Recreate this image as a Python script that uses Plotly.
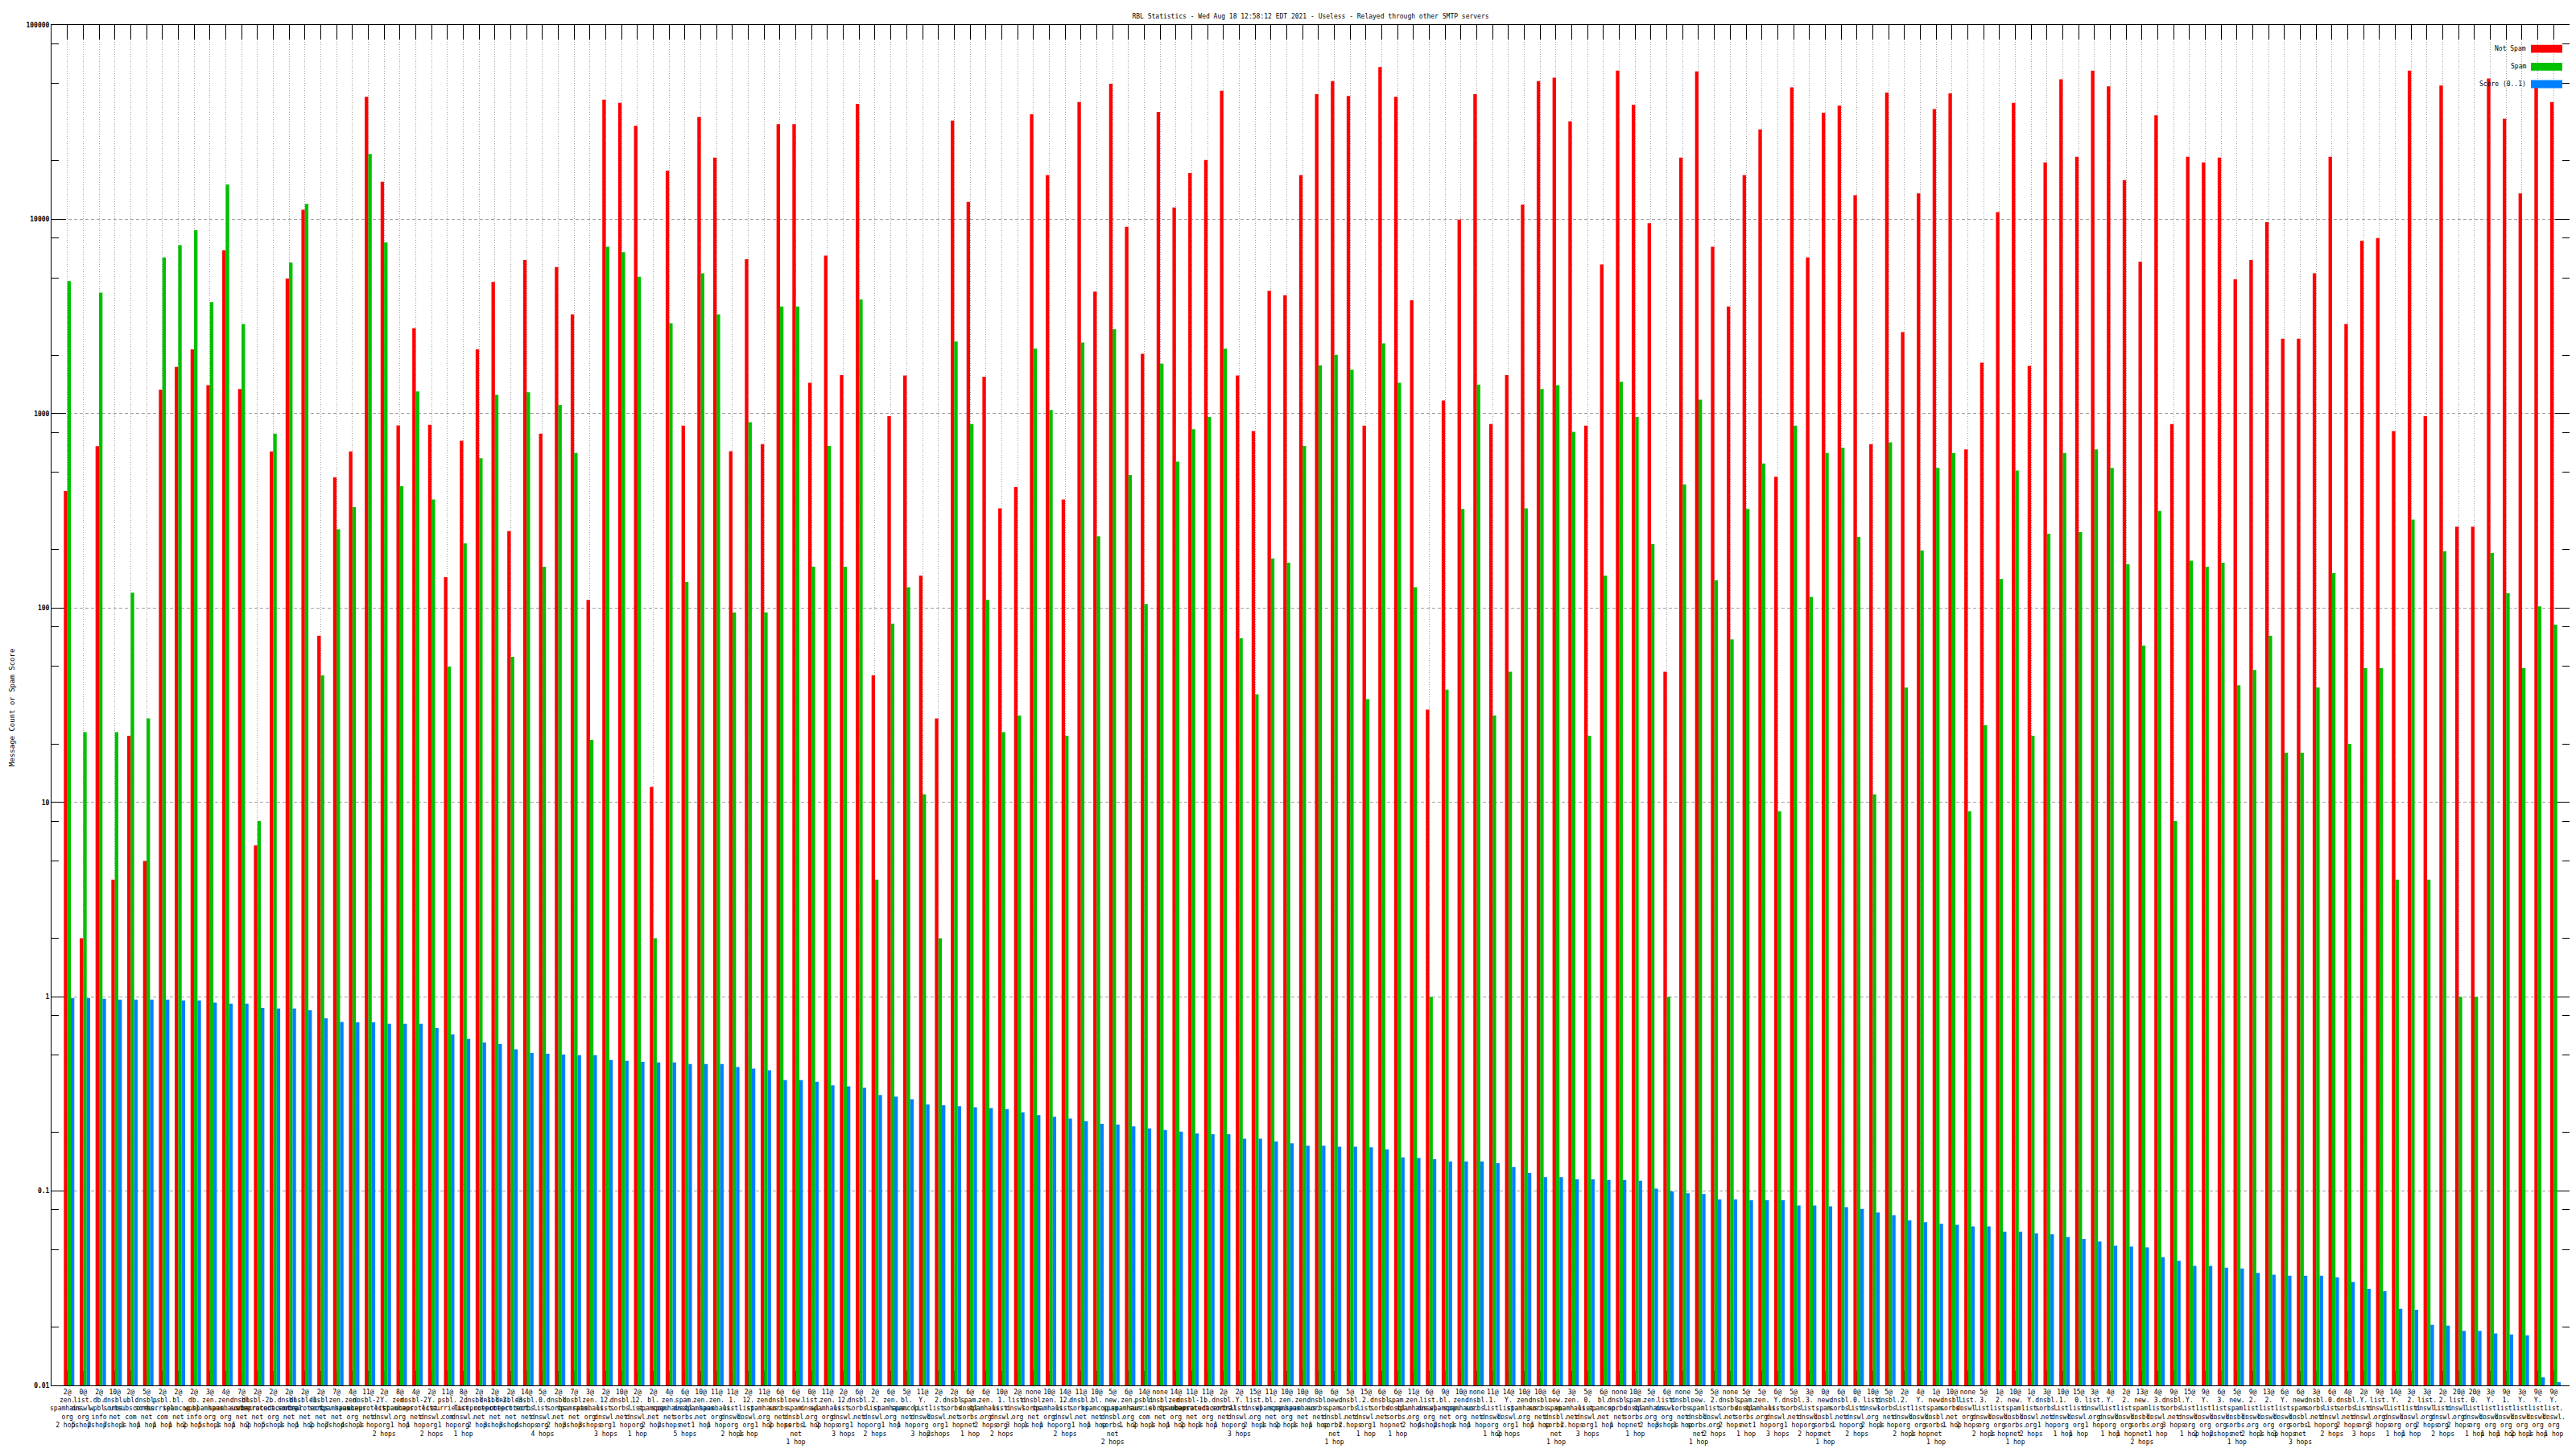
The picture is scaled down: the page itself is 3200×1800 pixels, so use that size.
import plotly.graph_objects as go

# ---------------- data ----------------
prefix = ["2@","0@","2@","10@","2@","5@","2@","2@","2@","3@",
          "4@","7@","2@","2@","2@","2@","2@","7@","4@","11@",
          "2@","8@","4@","2@","11@","8@","2@","2@","2@","14@",
          "5@","2@","7@","3@","2@","10@","2@","2@","4@","6@",
          "10@","11@","11@","2@","11@","6@","6@","0@","11@","2@",
          "6@","2@","6@","5@","11@","2@","2@","6@","6@","10@",
          "2@","none","10@","14@","11@","10@","5@","6@","14@","none",
          "14@","11@","11@","2@","2@","15@","11@","10@","10@","0@",
          "6@","5@","15@","6@","6@","11@","6@","9@","10@","none",
          "11@","14@","10@","10@","6@","3@","5@","6@","none","10@",
          "5@","6@","none","5@","5@","none","5@","5@","6@","5@",
          "3@","0@","6@","0@","10@","5@","2@","4@","1@","10@",
          "none","5@","1@","10@","1@","3@","10@","15@","3@","4@",
          "2@","13@","4@","9@","15@","9@","6@","5@","9@","13@",
          "6@","6@","3@","6@","4@","2@","9@","14@","3@","3@",
          "2@","20@","20@","3@","9@","3@","9@","9@"]

rbl = ["zen.spamhaus.org","list.dnswl.org","db.wpbl.info","dnsbl.sorbs.net","ubl.unsubscore.com",
       "dnsbl.sorbs.net","psbl.surriel.com","bl.spamcop.net","db.wpbl.info","zen.spamhaus.org",
       "zen.spamhaus.org","dnsbl.sorbs.net","dnsbl-2.uceprotect.net","b.barracudacentral.org","dnsbl.sorbs.net",
       "dnsbl-1.uceprotect.net","dnsbl.sorbs.net","zen.spamhaus.net","zen.spamhaus.org","dnsbl-2.uceprotect.net",
       "Y.list.dnswl.org","zen.spamhaus.org","dnsbl-2.uceprotect.net","Y.list.dnswl.org","psbl.surriel.com",
       "2.list.dnswl.org","dnsbl-1.uceprotect.net","dnsbl-2.uceprotect.net","dnsbl-3.uceprotect.net","dnsbl.sorbs.net",
       "0.list.dnswl.org","dnsbl.sorbs.net","dnsbl.spamrats.net","zen.spamhaus.org","12.list.dnswl.org",
       "dnsbl.sorbs.net","12.list.dnswl.org","bl.spamcop.net","zen.spamhaus.net","spam.dnsbl.sorbs.net",
       "zen.spamhaus.net","zen.spamhaus.org","1.list.dnswl.org","12.list.dnswl.org","zen.spamhaus.org",
       "dnsbl.sorbs.net","new.spam.dnsbl.sorbs.net","list.dnswl.org","zen.spamhaus.org","12.list.dnswl.org",
       "dnsbl.sorbs.net","2.list.dnswl.org","zen.spamhaus.org","bl.spamcop.net","Y.list.dnswl.org",
       "2.list.dnswl.org","dnsbl.sorbs.net","spam.dnsbl.sorbs.net","zen.spamhaus.org","1.list.dnswl.org",
       "list.dnswl.org","dnsbl.sorbs.net","zen.spamhaus.org","12.list.dnswl.org","dnsbl.sorbs.net",
       "bl.spamcop.net","new.spam.dnsbl.sorbs.net","zen.spamhaus.org","psbl.surriel.com","dnsbl.sorbs.net",
       "zen.spamhaus.org","dnsbl-1.uceprotect.net","b.barracudacentral.org","dnsbl.sorbs.net","Y.list.dnswl.org",
       "list.dnswl.org","bl.spamcop.net","zen.spamhaus.org","zen.spamhaus.net","dnsbl.sorbs.net",
       "new.spam.dnsbl.sorbs.net","dnsbl.sorbs.net","2.list.dnswl.org","dnsbl.sorbs.net","spam.dnsbl.sorbs.net",
       "zen.spamhaus.org","list.dnswl.org","bl.spamcop.net","zen.spamhaus.org","dnsbl.sorbs.net",
       "1.list.dnswl.org","Y.list.dnswl.org","zen.spamhaus.org","dnsbl.sorbs.net","new.spam.dnsbl.sorbs.net",
       "zen.spamhaus.net","0.list.dnswl.org","bl.spamcop.net","dnsbl.sorbs.net","spam.dnsbl.sorbs.net",
       "zen.spamhaus.org","list.dnswl.org","dnsbl.sorbs.net","new.spam.dnsbl.sorbs.net","2.list.dnswl.org",
       "dnsbl.sorbs.net","spam.dnsbl.sorbs.net","zen.spamhaus.org","Y.list.dnswl.org","dnsbl.sorbs.net",
       "3.list.dnswl.org","new.spam.dnsbl.sorbs.net","dnsbl.sorbs.net","0.list.dnswl.org","list.dnswl.org",
       "dnsbl.sorbs.net","2.list.dnswl.org","Y.list.dnswl.org","new.spam.dnsbl.sorbs.net","dnsbl.sorbs.net",
       "list.dnswl.org","3.list.dnswl.org","2.list.dnswl.org","new.spam.dnsbl.sorbs.net","Y.list.dnswl.org",
       "dnsbl.sorbs.net","1.list.dnswl.org","0.list.dnswl.org","list.dnswl.org","Y.list.dnswl.org",
       "2.list.dnswl.org","new.spam.dnsbl.sorbs.net","3.list.dnswl.org","dnsbl.sorbs.net","Y.list.dnswl.org",
       "Y.list.dnswl.org","3.list.dnswl.org","new.spam.dnsbl.sorbs.net","2.list.dnswl.org","2.list.dnswl.org",
       "Y.list.dnswl.org","new.spam.dnsbl.sorbs.net","dnsbl.sorbs.net","0.list.dnswl.org","dnsbl.sorbs.net",
       "Y.list.dnswl.org","list.dnswl.org","Y.list.dnswl.org","2.list.dnswl.org","list.dnswl.org",
       "2.list.dnswl.org","list.dnswl.org","0.list.dnswl.org","Y.list.dnswl.org","1.list.dnswl.org",
       "Y.list.dnswl.org","Y.list.dnswl.org","Y.list.dnswl.org","3.list.dnswl.org"]

hops = ["2 hops","5 hops","2 hops","7 hops","1 hop","1 hop","1 hop","1 hop","2 hops","5 hops",
        "1 hop","1 hop","2 hops","5 hops","1 hop","1 hop","2 hops","7 hops","4 hops","1 hop",
        "2 hops","1 hop","1 hop","2 hops","1 hop","1 hop","2 hops","3 hops","3 hops","4 hops",
        "4 hops","2 hops","3 hops","3 hops","3 hops","1 hop","1 hop","2 hops","2 hops","5 hops",
        "1 hop","1 hop","2 hops","1 hop","1 hop","2 hops","1 hop","1 hop","2 hops","3 hops",
        "1 hop","2 hops","1 hop","1 hop","3 hops","2 hops","1 hop","1 hop","2 hops","2 hops",
        "3 hops","1 hop","1 hop","2 hops","1 hop","1 hop","2 hops","1 hop","2 hops","1 hop",
        "1 hop","2 hops","1 hop","1 hop","3 hops","2 hops","1 hop","2 hops","1 hop","1 hop",
        "1 hop","2 hops","1 hop","1 hop","1 hop","2 hops","4 hops","2 hops","1 hop","1 hop",
        "1 hop","2 hops","1 hop","1 hop","1 hop","2 hops","3 hops","1 hop","1 hop","1 hop",
        "2 hops","3 hops","1 hop","1 hop","2 hops","2 hops","1 hop","1 hop","3 hops","1 hop",
        "2 hops","1 hop","1 hop","2 hops","2 hops","1 hop","2 hops","1 hop","1 hop","1 hop",
        "2 hops","2 hops","1 hop","1 hop","2 hops","1 hop","1 hop","1 hop","1 hop","1 hop",
        "1 hop","2 hops","1 hop","3 hops","1 hop","2 hops","2 hops","1 hop","2 hops","1 hop",
        "3 hops","3 hops","1 hop","2 hops","2 hops","3 hops","3 hops","1 hop","1 hop","2 hops",
        "2 hops","2 hops","1 hop","1 hop","1 hop","2 hops","1 hop","1 hop"]

not_spam = [400, 2, 680, 4, 22, 5, 1330, 1740, 2140, 1400,
            6920, 1340, 6, 640, 4960, 11200, 72, 470, 640, 42700,
            15600, 870, 2750, 875, 144, 726, 2140, 4760, 249, 6180,
            789, 5680, 3240, 110, 41300, 39700, 30300, 12, 17800, 867,
            33600, 20800, 641, 6240, 697, 30900, 30900, 1440, 6500, 1580,
            39300, 45, 971, 1570, 147, 27, 32200, 12300, 1550, 326,
            419, 34700, 16900, 362, 40100, 4250, 49900, 9160, 2030, 35700,
            11500, 17300, 20200, 45900, 1570, 814, 4290, 4070, 16900, 44000,
            51400, 43100, 867, 60700, 42700, 3830, 30, 1170, 9960, 44000,
            885, 1580, 11900, 51400, 53600, 31900, 867, 5860, 58200, 38800,
            9550, 47, 20800, 57600, 7220, 3560, 16900, 29000, 474, 47800,
            6370, 35400, 38400, 13300, 697, 44900, 2630, 13600, 36900, 44500,
            655, 1830, 10900, 39700, 1760, 19600, 52500, 21000, 58200, 48300,
            15900, 6050, 34300, 885, 21000, 19600, 20800, 4910, 6180, 9660,
            2430, 2430, 5280, 21000, 2890, 7760, 8000, 814, 58200, 971,
            48800, 262, 262, 53000, 32900, 13600, 48800, 40100]

spam = [4810, 23, 4200, 23, 120, 27, 6370, 7370, 8790, 3750,
        15100, 2890, 8, 789, 5980, 12000, 45, 254, 330, 21700,
        7600, 423, 1300, 362, 50, 215, 590, 1250, 56, 1290,
        163, 1110, 628, 21, 7220, 6780, 5070, 2, 2920, 136,
        5280, 3240, 95, 903, 95, 3560, 3560, 163, 682, 163,
        3870, 4, 83, 128, 11, 2, 2350, 885, 110, 23,
        28, 2160, 1045, 22, 2325, 234, 2720, 484, 105, 1810,
        566, 831, 961, 2160, 70, 36, 180, 171, 682, 1775,
        2010, 1685, 34, 2300, 1440, 128, 1, 38, 323, 1410,
        28, 47, 326, 1340, 1400, 805, 22, 147, 1460, 961,
        213, 1, 432, 1180, 139, 69, 323, 554, 9, 867,
        114, 628, 668, 232, 11, 711, 39, 198, 526, 628,
        9, 25, 141, 510, 22, 241, 628, 246, 655, 526,
        168, 64, 316, 8, 175, 163, 171, 40, 48, 72,
        18, 18, 39, 151, 20, 49, 49, 4, 285, 4,
        196, 1, 1, 192, 119, 49, 102, 82]

score = [0.984, 0.984, 0.975, 0.966, 0.966, 0.966, 0.966, 0.957, 0.957, 0.933,
         0.921, 0.921, 0.877, 0.869, 0.869, 0.852, 0.774, 0.742, 0.738, 0.738,
         0.726, 0.726, 0.726, 0.691, 0.64, 0.607, 0.582, 0.57, 0.536, 0.514,
         0.509, 0.504, 0.5, 0.5, 0.473, 0.468, 0.463, 0.459, 0.459, 0.45,
         0.45, 0.45, 0.435, 0.426, 0.418, 0.372, 0.372, 0.365, 0.35, 0.346,
         0.34, 0.312, 0.306, 0.297, 0.279, 0.276, 0.273, 0.27, 0.267, 0.264,
         0.254, 0.246, 0.241, 0.236, 0.229, 0.222, 0.22, 0.215, 0.21, 0.206,
         0.202, 0.198, 0.196, 0.196, 0.186, 0.186, 0.18, 0.176, 0.171, 0.171,
         0.169, 0.169, 0.168, 0.164, 0.149, 0.148, 0.146, 0.142, 0.142, 0.142,
         0.139, 0.133, 0.124, 0.118, 0.118, 0.115, 0.115, 0.114, 0.114, 0.113,
         0.103, 0.0995, 0.0975, 0.0965, 0.0906, 0.0906, 0.0897, 0.0897, 0.0897, 0.0843,
         0.0843, 0.0835, 0.0826, 0.081, 0.0776, 0.0752, 0.0707, 0.0692, 0.0678, 0.067,
         0.0657, 0.0657, 0.0618, 0.0618, 0.0605, 0.06, 0.058, 0.0568, 0.055, 0.0523,
         0.0518, 0.0513, 0.0457, 0.0438, 0.0412, 0.0412, 0.0403, 0.04, 0.0379, 0.0371,
         0.0367, 0.0367, 0.0367, 0.036, 0.0341, 0.0314, 0.0305, 0.0248, 0.0245, 0.0205,
         0.0203, 0.0191, 0.0191, 0.0185, 0.0183, 0.0181, 0.011, 0.0104]

ytick_vals = [0.01, 0.1, 1, 10, 100, 1000, 10000, 100000]
ytick_text = ["0.01", "0.1", "1", "10", "100", "1000", "10000", "100000"]
yminor_vals = [m * 10 ** e for e in range(-2, 5) for m in (2, 5, 8)]

title = "RBL Statistics - Wed Aug 18 12:58:12 EDT 2021 - Useless - Relayed through other SMTP servers"
series_names = ["Not Spam", "Spam", "Score (0..1)"]
colors = ["#ff0000", "#00c000", "#0080ff"]

# ---------------- build ----------------
def make_label(p, name, h):
    parts = name.split(".")
    lines = [s + "." for s in parts[:-1]] + [parts[-1]]
    return "<br>".join([p] + lines + [h])

idx = list(range(len(not_spam)))
labels = [make_label(p, n, h) for p, n, h in zip(prefix, rbl, hops)]

W, H = 3200, 1800
ML, MR, MT, MB = 56, 16, 23, 65
PW, PH = W - ML - MR, H - MT - MB
MONO = "DejaVu Sans Mono"

bw = 0.22
fig = go.Figure()
for vals, nm, col, off in zip([not_spam, spam, score], series_names, colors, [-bw, 0.0, bw]):
    fig.add_trace(go.Bar(x=idx, y=vals, name=nm, marker=dict(color=col, line=dict(width=0)),
                         offset=off, width=bw, showlegend=False))

fig.update_layout(
    width=W, height=H, barmode="overlay",
    margin=dict(l=ML, r=MR, t=MT, b=MB, pad=0),
    paper_bgcolor="white", plot_bgcolor="white",
    title=dict(text=title, x=(ML + PW / 2) / W, xanchor="center", y=1 - 12 / H, yanchor="middle",
               font=dict(family=MONO, size=8, color="black")),
    font=dict(family=MONO, size=8, color="black"),
)

fig.update_xaxes(
    range=[-1, 158], tickmode="array", tickvals=idx, ticktext=labels, tickangle=0,
    ticks="inside", ticklen=18, tickwidth=1, tickcolor="black",
    showline=True, linecolor="black", linewidth=1, mirror="ticks",
    showgrid=True, gridcolor="#a0a0a0", gridwidth=1, griddash="1px,2px",
    zeroline=False, layer="below traces",
    tickfont=dict(family=MONO, size=8, color="black"),
)
fig.update_yaxes(
    type="log", range=[-2, 5], tickmode="array", tickvals=ytick_vals, ticktext=ytick_text,
    ticks="inside", ticklen=18, tickwidth=1, tickcolor="black",
    showline=True, linecolor="black", linewidth=1, mirror="ticks",
    showgrid=True, gridcolor="#a0a0a0", gridwidth=1, griddash="4px,3px",
    zeroline=False, layer="below traces",
    minor=dict(ticks="inside", ticklen=9, tickcolor="black", tickmode="array",
               tickvals=yminor_vals, showgrid=False),
    tickfont=dict(family=MONO, size=8, color="black", weight="bold"),
)

# y-axis title
fig.add_annotation(text="Message Count or Spam Score", textangle=-90, showarrow=False,
                   xref="paper", yref="paper", x=(7 - ML) / PW, y=1 - (882 - MT) / PH,
                   xanchor="center", yanchor="middle", font=dict(family=MONO, size=9, color="black"))

# key (gnuplot style: text then colour swatch)
key_rows = [53, 75.5, 97.5]
for nm, col, yc in zip(series_names, colors, key_rows):
    yp = 1 - (yc - MT) / PH
    fig.add_annotation(text=nm, showarrow=False, xref="paper", yref="paper",
                       x=(3132 - ML) / PW, y=yp, xanchor="right", yanchor="middle",
                       font=dict(family=MONO, size=8, color="black"))
    fig.add_shape(type="rect", xref="paper", yref="paper",
                  x0=(3136 - ML) / PW, x1=(3175 - ML) / PW,
                  y0=yp - 5 / PH, y1=yp + 5 / PH, fillcolor=col, line=dict(width=0))

fig.write_html("out.html")
